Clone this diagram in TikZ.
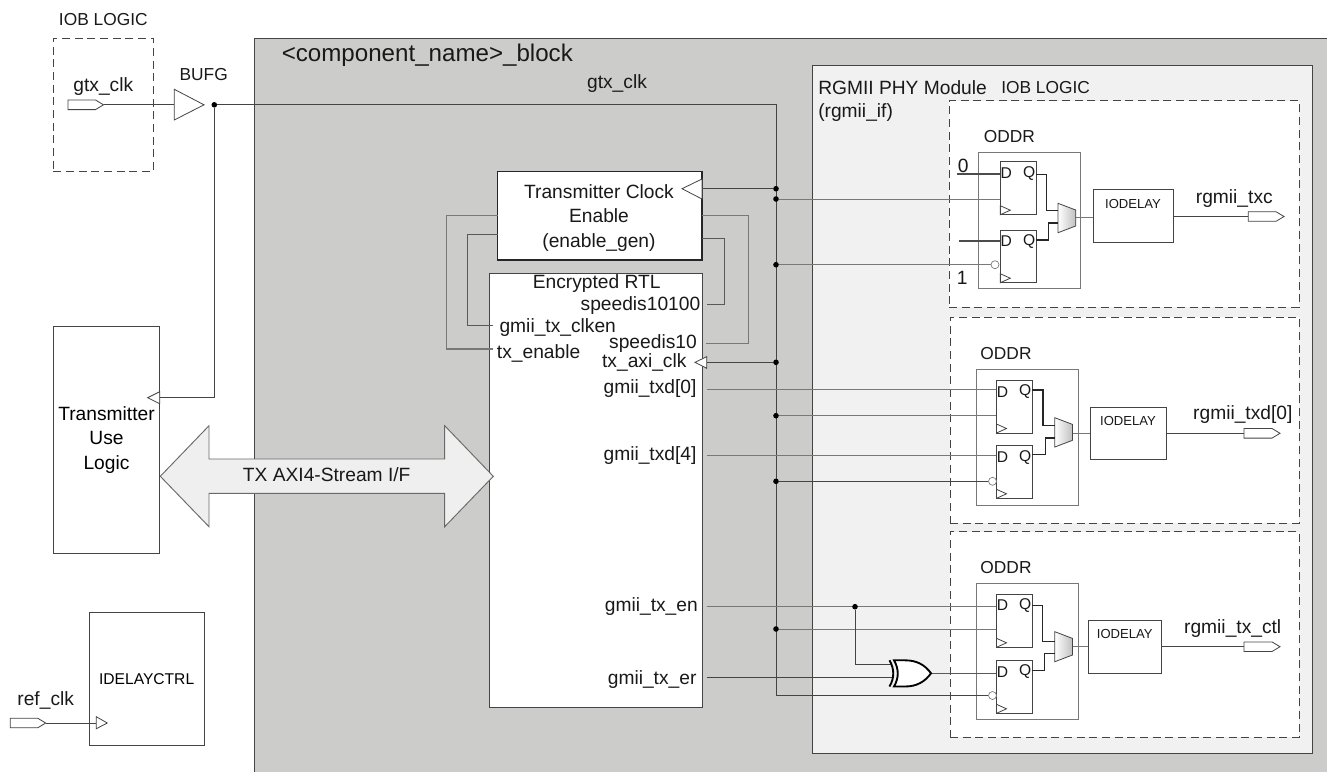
\documentclass[tikz,border=0pt]{standalone}
\usepackage{fontspec}
\setmainfont{Liberation Sans}
\usetikzlibrary{calc}
\definecolor{blockgray}{HTML}{CCCCCB}
\definecolor{panelgray}{HTML}{F1F1F1}
\definecolor{linedark}{HTML}{444444}
\definecolor{linegray}{HTML}{787878}
\definecolor{arrowfill}{HTML}{EFEFEF}
\tikzset{
  boxs/.style={draw=linedark,line width=0.75pt,fill=white,inner sep=0pt,font=\ftL,align=center},
  dashbox/.style={draw=linedark,line width=0.75pt,fill=white,dash pattern=on 6pt off 3.5pt,inner sep=0pt},
  lightbox/.style={draw=linegray,line width=0.6pt,fill=none,inner sep=0pt},
  wire/.style={draw=linedark,line width=0.7pt},
  graywire/.style={draw=linegray,line width=0.7pt},
  busline/.style={draw=black!85,line width=0.95pt},
  thickline/.style={draw=black!70,line width=1.5pt},
  dotn/.style={circle,fill=black,inner sep=0pt,minimum size=4.2pt},
  tri/.style={draw=linedark,line width=0.6pt,fill=white,line join=miter},
  lbl/.style={inner sep=0pt,font=\ftL,text=black!90},
  lblb/.style={inner sep=0pt,font=\ftM,text=black!90},
  lbls/.style={inner sep=0pt,font=\ftS,text=black!90},
}
\newcommand\ftL{\fontsize{14.4}{18.4}\selectfont}
\newcommand\ftM{\fontsize{13}{16}\selectfont}
\newcommand\ftS{\fontsize{9.8}{12}\selectfont}
\newcommand\ftI{\fontsize{11.7}{14}\selectfont}
\newcommand\ftT{\fontsize{18.1}{22}\selectfont}
% rectangular node from corner coordinates: style, name, x0,y0,x1,y1, text
\newcommand\rectn[7][]{%
  \pgfmathsetmacro\rcx{(#3+#5)/2}\pgfmathsetmacro\rcy{(#4+#6)/2}%
  \pgfmathsetmacro\rw{(#5-#3)*0.75}\pgfmathsetmacro\rh{(#6-#4)*0.75}%
  \node[#1,minimum width=\rw pt,minimum height=\rh pt] (#2) at (\rcx,\rcy) {#7};}
% input or output pad: name, left x, y, tip x
\newcommand\padn[4]{%
  \draw[tri] (#2,#3-4.8) -- (#4-8,#3-4.8) -- (#4,#3) -- (#4-8,#3+4.8) -- (#2,#3+4.8) -- cycle;
  \coordinate (#1-l) at (#2,#3);\coordinate (#1-r) at (#4,#3);}
% ODDR group, parameters set with \def before the call
\newcommand\oddrgroup{%
  \rectn[lightbox]{\p-outer}{\ox}{\oy}{\oX}{\oY}{}
  \rectn[boxs]{\p-ffa}{\fx}{\ay}{\fX}{\aY}{}
  \rectn[boxs]{\p-ffb}{\fx}{\by}{\fX}{\bY}{}
  \node[lbls,font=\ftI] (\p-da) at (\fx+6,\ay+11.5) {D};
  \node[lbls,font=\ftI] (\p-qa) at (\fX-7,\ay+11.5) {Q};
  \node[lbls,font=\ftI] (\p-db) at (\fx+6,\by+11.5) {D};
  \node[lbls,font=\ftI] (\p-qb) at (\fX-7,\by+11.5) {Q};
  \draw[tri,fill=none] (\fx,\aY-9) -- (\fx+10,\aY-4.5) -- (\fx,\aY) -- cycle;
  \draw[tri,fill=none] (\fx,\bY-9) -- (\fx+10,\bY-4.5) -- (\fx,\bY) -- cycle;
  \draw[draw=linedark,line width=0.6pt,left color=white,right color=black!25] (\mx,\ma) -- (\mX,\ma+6.7) -- (\mX,\md-6.7) -- (\mx,\md) -- cycle;
  \coordinate (\p-ina) at (\mx,\ia);
  \coordinate (\p-inb) at (\mx,\ib);
  \coordinate (\p-muxo) at (\mX,\mo);
  \draw[busline] (\fX,\qay) -| (\qax,\ia) -- (\p-ina);
  \draw[busline] (\fX,\qby) -| (\qbx,\ib) -- (\p-inb);
  \rectn[boxs,font=\ftS,text depth=0pt]{\p-iod}{\dx}{\dy}{\dX}{\dY}{}
  \node[lbls] (\p-iodt) at (\dtx,\dy+14) {IODELAY};
  \draw[graywire] (\p-muxo) -- (\p-muxo -| \p-iod.west);
  \padn{\p-pad}{\px}{\po}{\pX}
  \draw[wire] (\p-iod.east |- \p-pad-l) -- (\p-pad-l);
  \node[lblb] (\p-oddr) at (\olx,\oly) {ODDR};
  \node[lbl] (\p-out) at (\lx,\ly) {\lt};
}
\begin{document}
\begin{tikzpicture}[x=0.75pt,y=-0.75pt]
\useasboundingbox (0,0) rectangle (1327,772);
% large block
\fill[blockgray] (254,38) rectangle (1327,772);
\draw[linedark,line width=0.75pt] (254,772) -- (254,38) -- (1327,38);
\node[lbl,font=\ftT,anchor=west] (title) at (281.5,55) {<component\_name>\_block};
\node[lbl] (gtxint) at (617,84) {gtx\_clk};
% PHY panel
\rectn[draw=linedark,line width=0.75pt,fill=panelgray,inner sep=0pt]{phy}{812.5}{65}{1312}{753}{}
\node[lbl,anchor=west] (phyt) at (818,88) {RGMII PHY Module};
\node[lbl,anchor=west] (phyu) at (818,113) {(rgmii\_if)};
\node[lblb,anchor=west] (phyi) at (1001,87.5) {IOB LOGIC};
% dashed IOB regions
\rectn[dashbox]{ioba}{949}{100.7}{1299}{307}{}
\rectn[dashbox]{iobb}{950}{317.3}{1299}{523}{}
\rectn[dashbox]{iobc}{950}{531.7}{1299}{737.3}{}
% left part
\node[lbl,font=\ftM] (ioblbl) at (103.3,20) {IOB LOGIC};
\rectn[dashbox]{iobl}{53.3}{38}{153.3}{171.3}{}
\node[lbl] (gtxl) at (103.3,86.5) {gtx\_clk};
\padn{gp}{68}{104.8}{103.5}
\node[lblb] (bufgl) at (203.7,75) {BUFG};
\coordinate (bufgin) at (174.3,104.8);
\coordinate (bufgout) at (204,104.8);
\node[dotn] (dbuf) at (214.3,104.8) {};
\coordinate (busx) at (776,104.8);
\draw[wire] (gp-r) -- (bufgin);
\draw[tri] (174.3,89.3) -- (bufgout) -- (174.3,120) -- cycle;
\rectn[boxs]{txuse}{53.3}{326.7}{159.7}{553.3}{Transmitter\\Use\\Logic}
\coordinate (txclk) at (159.7,397.7);
\draw[wire] (dbuf) |- (txclk);
\draw[tri] (159.7,391.7) -- (147.7,397.7) -- (159.7,403.7) -- cycle;
\rectn[boxs,font=\ftI]{idc}{89.3}{612}{204}{745.3}{IDELAYCTRL}
\node[lbl] (refl) at (45.7,700) {ref\_clk};
\padn{rp}{10.3}{723}{45.7}
\coordinate (idcin) at (96.3,723);
\draw[wire] (rp-r) -- (idcin);
\draw[tri] (96.3,716.7) -- (107.3,723) -- (96.3,728.7) -- cycle;
% main boxes
\rectn[draw=black!85,line width=1pt,fill=white,inner sep=0pt,font=\ftL,align=center,text depth=0pt]{ceb}{497.7}{171.7}{702}{260}{}
\node[lbl,align=center] (cet) at (599,218) {Transmitter Clock\\Enable\\(enable\_gen)};
\rectn[boxs]{enc}{489}{273}{702}{707}{}
\node[lbl] (enct) at (596.7,284) {Encrypted RTL};
\node[lbl,anchor=east] (s100) at (700.5,306) {speedis10100};
\node[lbl,anchor=west] (clken) at (499.3,327.7) {gmii\_tx\_clken};
\node[lbl,anchor=east] (s10) at (697,344) {speedis10};
\node[lbl,anchor=west] (txen) at (496.7,353) {tx\_enable};
\node[lbl,anchor=east] (axi) at (686.7,362.5) {tx\_axi\_clk};
\node[lbl,anchor=east] (txd0) at (696.7,388.7) {gmii\_txd[0]};
\node[lbl,anchor=east] (txd4) at (696.7,456) {gmii\_txd[4]};
\node[lbl,anchor=east] (txe) at (698,607) {gmii\_tx\_en};
\node[lbl,anchor=east] (txr) at (696.7,680) {gmii\_tx\_er};
% loops
\coordinate (la) at (497.7,215.7);\coordinate (lae) at (492.7,349);
\coordinate (lb) at (497.7,234.3);\coordinate (lbe) at (493,325.7);
\coordinate (ra) at (702,215.7);\coordinate (rae) at (706,343.7);
\coordinate (rb) at (702,238.3);\coordinate (rbe) at (706.7,304.7);
\draw[graywire,line width=0.9pt] (la) -- (446.7,215.7) |- (lae);
\draw[wire,draw=black!65,line width=0.9pt] (lb) -- (467.7,234.3) |- (lbe);
\draw[graywire,line width=0.9pt] (ra) -- (748.7,215.7) |- (rae);
\draw[wire,draw=black!65,line width=0.9pt] (rb) -- (724.3,238.3) |- (rbe);
% ODDR groups
\def\p{a}\def\ox{978.7}\def\oy{152.3}\def\oX{1080.3}\def\oY{288.3}\def\fx{1000.3}\def\fX{1036.3}
\def\ay{161.7}\def\aY{214.7}\def\by{230}\def\bY{282.7}\def\mx{1058}\def\mX{1075.7}\def\ma{203.3}\def\md{232.7}
\def\ia{210.3}\def\ib{223}\def\mo{217.3}\def\qay{174.7}\def\qby{240}\def\qax{1046.3}\def\qbx{1048.3}
\def\dx{1093.7}\def\dX{1173.7}\def\dy{189.7}\def\dY{242.7}\def\dtx{1133}\def\px{1248.3}\def\pX{1284}\def\po{216.5}
\def\olx{1009.3}\def\oly{136.7}\def\lx{1234.3}\def\ly{198.7}\def\lt{rgmii\_txc}
\oddrgroup
\def\p{b}\def\ox{976}\def\oy{369.7}\def\oX{1078}\def\oY{505}\def\fx{996.5}\def\fX{1032.3}
\def\ay{380.3}\def\aY{433}\def\by{445.7}\def\bY{498.3}\def\mx{1054.8}\def\mX{1072.5}\def\ma{417.7}\def\md{447}
\def\ia{425.3}\def\ib{438}\def\mo{433.3}\def\qay{390}\def\qby{454.3}\def\qax{1043}\def\qbx{1045.4}
\def\dx{1090.6}\def\dX{1166.9}\def\dy{407}\def\dY{459.7}\def\dtx{1128}\def\px{1244}\def\pX{1280}\def\po{433.3}
\def\olx{1006}\def\oly{354}\def\lx{1242.8}\def\ly{414.3}\def\lt{rgmii\_txd[0]}
\oddrgroup
\def\p{c}\def\ox{976}\def\oy{583.3}\def\oX{1078}\def\oY{719.3}\def\fx{996.5}\def\fX{1032.3}
\def\ay{594}\def\aY{647.3}\def\by{660.3}\def\bY{713.3}\def\mx{1054.8}\def\mX{1072.5}\def\ma{631.7}\def\md{661.7}
\def\ia{641.3}\def\ib{653.7}\def\mo{646.7}\def\qay{605.7}\def\qby{670.7}\def\qax{1042.5}\def\qbx{1044.6}
\def\dx{1088}\def\dX{1161.8}\def\dy{620}\def\dY{673}\def\dtx{1124.7}\def\px{1244}\def\pX{1280}\def\po{646.7}
\def\olx{1006}\def\oly{567.7}\def\lx{1232.7}\def\ly{629}\def\lt{rgmii\_tx\_ctl}
\oddrgroup
% constant inputs of the first ODDR
\coordinate (za) at (957.3,174);\coordinate (zb) at (959,241.3);
\draw[thickline] (za) -- (za -| a-ffa.west);
\draw[thickline] (zb) -- (zb -| a-ffb.west);
\node[lbl] (zero) at (963.3,165.5) {0};
\node[lbl] (one) at (962.3,277.7) {1};
% clock bus
\coordinate (busbot) at (776,695.5);
\draw[wire] (dbuf) -- (busx) -- (busbot);
\node[dotn] (d1) at (776,188.7) {};
\node[dotn] (d2) at (776,199) {};
\node[dotn] (d3) at (776,264.7) {};
\node[dotn] (d4) at (776,362.3) {};
\node[dotn] (d5) at (776,415.7) {};
\node[dotn] (d6) at (776,481.3) {};
\node[dotn] (d7) at (776,629) {};
% inverted clock bubbles
\node[circle,draw=linegray,line width=0.5pt,fill=white,inner sep=0pt,minimum size=6pt] (ba) at (995,264.7) {};
\node[circle,draw=linegray,line width=0.5pt,fill=white,inner sep=0pt,minimum size=6pt] (bb) at (992.5,481.3) {};
\node[circle,draw=linegray,line width=0.5pt,fill=white,inner sep=0pt,minimum size=6pt] (bc) at (992.5,695.5) {};
% clock branches
\coordinate (cein) at (702,188.7);
\draw[wire] (d1) -- (cein);
\draw[tri] (702,179) -- (682,188.7) -- (702,199) -- cycle;
\draw[graywire] (d2) -- (d2 -| a-ffa.west);
\draw[graywire] (d3) -- (ba);
\coordinate (axin) at (706.7,362.3);
\draw[wire] (d4) -- (axin);
\draw[tri,fill=white] (706.7,356.7) -- (695,362.3) -- (706.7,368.3) -- cycle;
\draw[wire,draw=linegray] (d5) -- (d5 -| b-ffa.west);
\draw[wire] (d6) -- (bb);
\draw[graywire] (d7) -- (d7 -| c-ffa.west);
\draw[wire] (busbot) -- (bc);
% data wires
\coordinate (w0) at (706.7,389.3);\coordinate (w4) at (706.7,455.7);
\coordinate (wen) at (706.7,606.7);\coordinate (wer) at (706.7,677.7);
\draw[graywire] (w0) -- (w0 -| b-ffa.west);
\draw[graywire] (w4) -- (w4 -| b-ffb.west);
\draw[graywire] (wen) -- (wen -| c-ffa.west);
\node[dotn] (d8) at (855,606.7) {};
% XOR gate
\coordinate (xa) at (892,664.7);\coordinate (xb) at (892,677.7);\coordinate (xo) at (931,673.3);
\draw[wire] (d8) |- (xa);
\draw[wire] (wer) -- (xb);
\draw[graywire,draw=black!65] (xo) -- (xo -| c-ffb.west);
\draw[black,line width=1.4pt,fill=white] (894,660.3) -- (905,660.3) .. controls (917,660.3) and (925,665) .. (xo) .. controls (925,681.5) and (917,686.5) .. (905,686.5) -- (894,686.5) .. controls (899,678) and (899,669) .. cycle;
\draw[black,line width=1.4pt] (889.5,660.3) .. controls (894.5,669) and (894.5,678) .. (889.5,686.5);
% AXI bus arrow
\draw[draw=linedark!80,line width=0.7pt,fill=arrowfill] (160.3,476.3) -- (209,425.7) -- (209,459) -- (444.7,459) -- (444.7,425.7) -- (493.3,476.3) -- (444.7,526.7) -- (444.7,493.3) -- (209,493.3) -- (209,526.7) -- cycle;
\node[lbl] (axit) at (326.7,474.7) {TX AXI4-Stream I/F};
\end{tikzpicture}
\end{document}
